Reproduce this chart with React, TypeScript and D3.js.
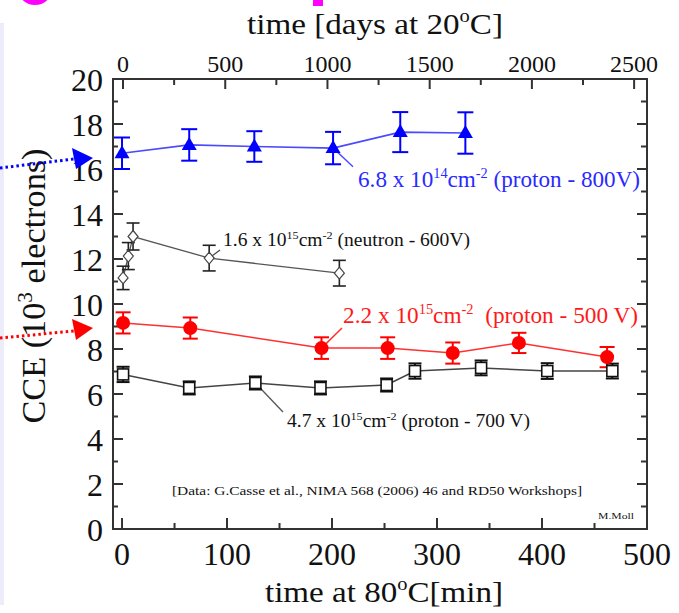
import React from "react";
import * as d3 from "d3";

const W = 679;
const H = 613;

// ---- data (time at 80°C in minutes, CCE in 10^3 electrons) ----
const blueTime = [0, 64, 126, 201, 265, 327];
const blueCCE = [16.7, 17.07, 17.0, 16.93, 17.64, 17.6];
const blueErr = [0.7, 0.7, 0.68, 0.72, 0.89, 0.92];

const neutronTime = [1, 6, 10.5, 83, 207];
const neutronCCE = [11.16, 12.13, 13.0, 12.04, 11.37];
const neutronErr = [0.52, 0.6, 0.6, 0.57, 0.57];

const redTime = [1, 65, 190, 253, 315, 378, 462];
const redCCE = [9.16, 8.93, 8.04, 8.04, 7.82, 8.27, 7.64];
const redErr = [0.47, 0.47, 0.48, 0.48, 0.47, 0.45, 0.45];

const sqTime = [1, 64, 127, 189, 252, 279, 342, 405, 467];
const sqCCE = [6.87, 6.27, 6.49, 6.27, 6.4, 7.02, 7.16, 7.02, 7.02];
const sqErr = [0.34, 0.29, 0.29, 0.29, 0.29, 0.34, 0.33, 0.35, 0.33];

const bottomTicks = [0, 100, 200, 300, 400, 500];
const bottomMinor = [50, 150, 250, 350, 450];
const topTicks = [0, 500, 1000, 1500, 2000, 2500];
const topMinor = [250, 750, 1250, 1750, 2250];
const yTicks = [0, 2, 4, 6, 8, 10, 12, 14, 16, 18, 20];
const yMinor = [1, 3, 5, 7, 9, 11, 13, 15, 17, 19];

type Part = { t: string; sup?: boolean };
const blueLabel: Part[] = [{ t: "6.8 x 10" }, { t: "14", sup: true }, { t: "cm" }, { t: "-2", sup: true }, { t: " (proton - 800V)" }];
const neutronLabel: Part[] = [{ t: "1.6 x 10" }, { t: "15", sup: true }, { t: "cm" }, { t: "-2", sup: true }, { t: " (neutron - 600V)" }];
const redLabel: Part[] = [{ t: "2.2 x 10" }, { t: "15", sup: true }, { t: "cm" }, { t: "-2", sup: true }, { t: "  (proton - 500 V)" }];
const sqLabel: Part[] = [{ t: "4.7 x 10" }, { t: "15", sup: true }, { t: "cm" }, { t: "-2", sup: true }, { t: " (proton - 700 V)" }];
const topTitle: Part[] = [{ t: "time [days at 20" }, { t: "o", sup: true }, { t: "C]" }];
const bottomTitle: Part[] = [{ t: "time at 80" }, { t: "o", sup: true }, { t: "C[min]" }];
const yTitle: Part[] = [{ t: "CCE (10" }, { t: "3", sup: true }, { t: " electrons)" }];

// annotation anchors in data units: [time, cce]
const blueLabelPos = [224.8, 15.2];
const neutronLabelPos = [96.2, 12.58];
const redLabelPos = [210.5, 9.16];
const sqLabelPos = [157.1, 4.53];
const blueLeader = [201, 16.93, 220, 16.1];
const neutronLeader = [83, 12.04, 93.3, 12.4];
const redLeader = [190, 8.04, 209.5, 8.93];
const sqLeader = [127, 6.49, 153.3, 5.2];

const FONT = "Liberation Serif, serif";

function Rich(props: {
  x: number; y: number; parts: Part[]; size: number; fill: string;
  len?: number; anchor?: string; transform?: string;
}) {
  const { x, y, parts, size, fill, len, anchor, transform } = props;
  const shift = size * 0.4;
  let prevSup = false;
  return (
    <text
      x={x}
      y={y}
      fontSize={size}
      fontFamily={FONT}
      fill={fill}
      textAnchor={anchor || "start"}
      transform={transform}
      textLength={len}
      lengthAdjust={len ? "spacingAndGlyphs" : undefined}
      style={{ whiteSpace: "pre" }}
    >
      {parts.map((p, i) => {
        let dy = 0;
        if (p.sup && !prevSup) dy = -shift;
        if (!p.sup && prevSup) dy = shift;
        prevSup = !!p.sup;
        return (
          <tspan key={i} dy={dy} fontSize={p.sup ? size * 0.62 : size}>
            {p.t}
          </tspan>
        );
      })}
    </text>
  );
}

export default function App() {
  const x = d3.scaleLinear().domain([-8.6, 500]).range([113, 647]);
  const xTop = d3.scaleLinear().domain([-49, 2563]).range([113, 647]);
  const y = d3.scaleLinear().domain([0, 20]).range([529, 79]);
  const [x0, x1] = x.range();
  const [y0, y1] = y.range();

  const line = d3
    .line<[number, number]>()
    .x((d) => x(d[0]))
    .y((d) => y(d[1]));

  const zip = (a: number[], b: number[]) => a.map((v, i) => [v, b[i]] as [number, number]);

  const errBars = (ts: number[], vs: number[], es: number[], color: string, hw: number, sw: number) =>
    ts.map((t, i) => {
      const cx = x(t);
      const yt = y(vs[i] + es[i]);
      const yb = y(vs[i] - es[i]);
      return (
        <g key={i} stroke={color} strokeWidth={sw}>
          <line x1={cx} x2={cx} y1={yt} y2={yb} />
          <line x1={cx - hw} x2={cx + hw} y1={yt} y2={yt} />
          <line x1={cx - hw} x2={cx + hw} y1={yb} y2={yb} />
        </g>
      );
    });

  const axisColor = "#333";

  return (
    <svg
      width={W}
      height={H}
      fontFamily={FONT}
      style={{ position: "absolute", left: 0, top: 0, background: "#fff" }}
    >
      <rect x={0} y={0} width={W} height={H} fill="#fff" />
      {/* slide remnants */}
      <rect x={0} y={23} width={4} height={582} fill="#ececfb" />
      <circle cx={35} cy={-13} r={18} fill="#ff00ff" />
      <rect x={313} y={0} width={10} height={6} fill="#ff00ff" />

      {/* frame */}
      <rect x={x0} y={y1} width={x1 - x0} height={y0 - y1} fill="none" stroke={axisColor} strokeWidth={2} />

      {/* ticks */}
      <g stroke={axisColor} strokeWidth={2}>
        {bottomTicks.map((t) => (
          <line key={"b" + t} x1={x(t)} x2={x(t)} y1={y0} y2={y0 - 11} />
        ))}
        {bottomMinor.map((t) => (
          <line key={"bm" + t} x1={x(t)} x2={x(t)} y1={y0} y2={y0 - 6} />
        ))}
        {topTicks.map((t) => (
          <line key={"t" + t} x1={xTop(t)} x2={xTop(t)} y1={y1} y2={y1 + 10} />
        ))}
        {topMinor.map((t) => (
          <line key={"tm" + t} x1={xTop(t)} x2={xTop(t)} y1={y1} y2={y1 + 6} />
        ))}
        {yTicks.map((v) => (
          <g key={"y" + v}>
            <line x1={x0} x2={x0 + 10} y1={y(v)} y2={y(v)} />
            <line x1={x1} x2={x1 - 10} y1={y(v)} y2={y(v)} />
          </g>
        ))}
        {yMinor.map((v) => (
          <g key={"ym" + v}>
            <line x1={x0} x2={x0 + 5} y1={y(v)} y2={y(v)} />
            <line x1={x1} x2={x1 - 6} y1={y(v)} y2={y(v)} />
          </g>
        ))}
      </g>

      {/* tick labels */}
      <g fill="#111" fontSize={32} fontFamily={FONT}>
        {yTicks.map((v) => (
          <text key={"yl" + v} x={x0 - 10} y={y(v)} dy="0.36em" textAnchor="end">
            {v}
          </text>
        ))}
        {bottomTicks.map((t) => (
          <text key={"bl" + t} x={x(t)} y={y0 + 36} textAnchor="middle">
            {t}
          </text>
        ))}
      </g>
      <g fill="#111" fontSize={24} fontFamily={FONT}>
        {topTicks.map((t) => (
          <text key={"tl" + t} x={xTop(t)} y={y1 - 7} textAnchor="middle">
            {t}
          </text>
        ))}
      </g>

      {/* titles */}
      <Rich x={247} y={34} parts={topTitle} size={30} fill="#111" len={256} />
      <Rich x={265} y={602} parts={bottomTitle} size={30} fill="#111" len={238} />
      <Rich
        x={0}
        y={0}
        parts={yTitle}
        size={33}
        fill="#111"
        len={275}
        anchor="middle"
        transform="translate(45,286) rotate(-90)"
      />

      {/* dotted arrows */}
      <line x1={0} y1={168} x2={74} y2={159} stroke="#0000ff" strokeWidth={3} strokeDasharray="2.5 3" />
      <polygon points="72,148 93,158 76,169" fill="#0000ff" />
      <line x1={0} y1={338} x2={74} y2={331} stroke="#ff0000" strokeWidth={3} strokeDasharray="2.5 3" />
      <polygon points="72,319 93,328 76,340" fill="#ff0000" />

      {/* series lines */}
      <path d={line(zip(blueTime, blueCCE)) || ""} fill="none" stroke="#4a4aff" strokeWidth={1.6} />
      <path d={line(zip(neutronTime, neutronCCE)) || ""} fill="none" stroke="#555" strokeWidth={1.3} />
      <path d={line(zip(redTime, redCCE)) || ""} fill="none" stroke="#ff3030" strokeWidth={1.5} />
      <path d={line(zip(sqTime, sqCCE)) || ""} fill="none" stroke="#444" strokeWidth={1.5} />

      {/* leader lines */}
      <line x1={x(blueLeader[0])} y1={y(blueLeader[1])} x2={x(blueLeader[2])} y2={y(blueLeader[3])} stroke="#4a4aff" strokeWidth={1.5} />
      <line x1={x(neutronLeader[0])} y1={y(neutronLeader[1])} x2={x(neutronLeader[2])} y2={y(neutronLeader[3])} stroke="#444" strokeWidth={1.2} />
      <line x1={x(redLeader[0])} y1={y(redLeader[1])} x2={x(redLeader[2])} y2={y(redLeader[3])} stroke="#ff3030" strokeWidth={1.5} />
      <line x1={x(sqLeader[0])} y1={y(sqLeader[1])} x2={x(sqLeader[2])} y2={y(sqLeader[3])} stroke="#555" strokeWidth={1.3} />

      {/* error bars */}
      {errBars(blueTime, blueCCE, blueErr, "#0000ff", 8, 2)}
      {errBars(neutronTime, neutronCCE, neutronErr, "#222", 6.5, 1.6)}
      {errBars(redTime, redCCE, redErr, "#ff0000", 7.5, 2)}
      {errBars(sqTime, sqCCE, sqErr, "#111", 6.5, 2)}

      {/* markers */}
      {blueTime.map((t, i) => {
        const cx = x(t);
        const cy = y(blueCCE[i]);
        return <polygon key={"bt" + i} points={`${cx},${cy - 8} ${cx + 7.5},${cy + 5} ${cx - 7.5},${cy + 5}`} fill="#0000ff" />;
      })}
      {neutronTime.map((t, i) => {
        const cx = x(t);
        const cy = y(neutronCCE[i]);
        return (
          <polygon
            key={"nd" + i}
            points={`${cx},${cy - 6} ${cx + 5},${cy} ${cx},${cy + 6} ${cx - 5},${cy}`}
            fill="#fff"
            stroke="#444"
            strokeWidth={1.2}
          />
        );
      })}
      {redTime.map((t, i) => (
        <circle key={"rc" + i} cx={x(t)} cy={y(redCCE[i])} r={7} fill="#ff0000" />
      ))}
      {sqTime.map((t, i) => (
        <rect key={"sq" + i} x={x(t) - 5.5} y={y(sqCCE[i]) - 5.5} width={11} height={11} fill="#fff" stroke="#111" strokeWidth={1.6} />
      ))}

      {/* series labels */}
      <Rich x={x(blueLabelPos[0])} y={y(blueLabelPos[1])} parts={blueLabel} size={23} fill="#2a2aff" len={282} />
      <Rich x={x(neutronLabelPos[0])} y={y(neutronLabelPos[1])} parts={neutronLabel} size={18} fill="#111" len={247} />
      <Rich x={x(redLabelPos[0])} y={y(redLabelPos[1])} parts={redLabel} size={23} fill="#ff1a1a" len={295} />
      <Rich x={x(sqLabelPos[0])} y={y(sqLabelPos[1])} parts={sqLabel} size={18} fill="#111" len={243} />

      {/* notes */}
      <text x={172} y={495} fontSize={12.5} fontFamily={FONT} fill="#111" textLength={410} lengthAdjust="spacingAndGlyphs">
        [Data: G.Casse et al., NIMA 568 (2006) 46 and RD50 Workshops]
      </text>
      <text x={598} y={519} fontSize={9} fontFamily={FONT} fill="#111" textLength={36} lengthAdjust="spacingAndGlyphs">
        M.Moll
      </text>
    </svg>
  );
}
